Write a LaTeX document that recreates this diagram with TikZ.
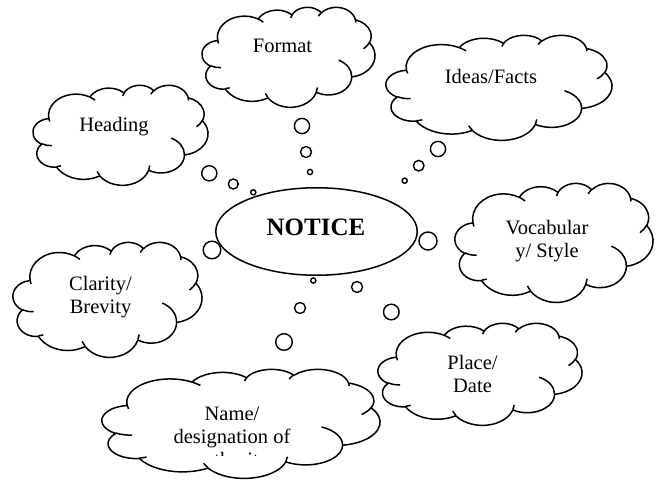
\documentclass[tikz,border=0pt]{standalone}
\usepackage{fontspec}
\setmainfont{Liberation Serif}
\usetikzlibrary{shapes.geometric}

% arco de nube: radios wR, hR; angulo visual inicial y barrido (grados)
\newcommand\arcoNube[4]{%
  arc[x radius=#1, y radius=#2,
      start angle={atan2(#1*sin(#3),#2*cos(#3))},
      delta angle={mod(atan2(#1*sin(#3+#4),#2*cos(#3+#4))-atan2(#1*sin(#3),#2*cos(#3))+720,360)}]}

% nube: esquina superior izquierda (#1,#2), ancho #3, alto #4
\newcommand\nube[4]{%
  \pgfmathsetmacro\escX{#3/432}%
  \pgfmathsetmacro\escY{#4/432}%
  \begin{scope}[shift={(#1,#2)}, x=\escX pt, y=-\escY pt]
    \draw[contorno] (39,143.7)
      \arcoNube{67.53}{91.90}{-190.4875}{123.7805}
      \arcoNube{53.33}{72.67}{-144.1024}{89.9452}
      \arcoNube{43.65}{59.45}{-145.8079}{99.7230}
      \arcoNube{48.57}{65.95}{-130.9861}{117.2417}
      \arcoNube{53.33}{72.73}{-78.7089}{109.0269}
      \arcoNube{67.75}{92.20}{-46.2673}{130.2690}
      \arcoNube{57.85}{78.67}{0.6250}{114.0333}
      \arcoNube{67.52}{92.15}{22.4516}{115.1726}
      \arcoNube{77.20}{105.43}{66.2426}{75.7110}
      \arcoNube{43.60}{59.18}{-274.9421}{146.7356}
      \arcoNube{43.45}{59.45}{-246.8285}{152.5189}
      -- cycle;
    % pliegues interiores
    \draw[contorno] (46.93,261.77) \arcoNube{43.45}{59.45}{86.7420}{26.4295}
      (69.28,348.99) \arcoNube{43.60}{59.18}{73.6105}{11.4475}
      (164.78,390.90) \arcoNube{67.52}{92.15}{137.6242}{14.0811}
      (288.27,347.51) \arcoNube{67.52}{92.15}{6.4533}{15.9984}
      (341.29,229.54) \arcoNube{57.85}{78.67}{-70.2924}{70.9174}
      (417.98,153.54) \arcoNube{53.33}{72.73}{30.3180}{27.7515}
      (383.24,54.26) \arcoNube{48.57}{65.95}{-13.7443}{14.8589}
      (290.78,39.52) \arcoNube{48.57}{65.95}{-149.1815}{18.1954}
      (221.41,47.20) \arcoNube{43.65}{59.45}{-163.4943}{19.5048}
      (140.00,51.92) \arcoNube{67.53}{91.90}{-66.7070}{12.3194}
      (41.27,157.89) \arcoNube{67.53}{91.90}{157.6544}{11.8582};
  \end{scope}}

\begin{document}
\begin{tikzpicture}[x=1pt, y=-1pt,
    contorno/.style={line width=1.5pt, line join=round},
    burbuja/.style={line width=1.4pt, fill=white},
    texto/.style={font=\fontsize{20.5}{23}\selectfont, align=center, inner sep=0pt}]

  \useasboundingbox (0,0) rectangle (658,486);

  % --- Nubes ---
  \nube{202}{7}{173}{100}     % Format
  \nube{33}{85}{175}{100}     % Heading
  \nube{386}{35}{226}{105}    % Ideas/Facts
  \nube{455}{183}{198}{119}   % Vocabulary
  \nube{13}{242}{189}{115}    % Clarity
  \nube{378}{323}{204}{102}   % Place
  \nube{102}{369}{278}{109}   % Name

  % --- Textos de las nubes ---
  \node[texto, anchor=base] (format) at (282.5,53) {Format};
  \node[texto, anchor=base] (heading) at (114,132) {Heading};
  \node[texto, anchor=base] (ideas) at (491,84) {Ideas/Facts};
  \node[texto] (vocab) at (547,241.3) {Vocabular\\y/ Style};
  \node[texto] (clarity) at (100.5,296.6) {Clarity/\\Brevity};
  \node[texto] (place) at (472.5,374.4) {Place/\\Date};
  \begin{scope}
    \clip (102,369) rectangle (380,455);
    \node[texto] (name) at (232,439.2) {Name/\\designation of\\authority};
  \end{scope}

  % --- Elipse central ---
  \node[draw, ellipse, line width=1.5pt, minimum width=201.5pt,
        minimum height=87.5pt] (notice) at (316.5,231.5) {};
  \node[anchor=base, inner sep=0pt, font=\fontsize{25}{30}\selectfont\bfseries]
        (noticeT) at (316,236) {NOTICE};

  % --- Burbujas ---
  \foreach \x/\y/\rad in {302/126/7.6, 306/152/5.5, 310/172/2.6,
                          209.3/173.3/7.6, 233.3/184/5, 253.3/192.3/2.6,
                          438/149/7.6, 418.7/165.7/5.3, 404.7/180.7/2.6,
                          428/241/9, 212/250/8.8,
                          313.3/280.5/2.6, 300/308/5.5, 284/342/8.3,
                          357/287/5.5, 391.3/312/7.8}
    \draw[burbuja] (\x,\y) circle[radius=\rad];

\end{tikzpicture}
\end{document}
